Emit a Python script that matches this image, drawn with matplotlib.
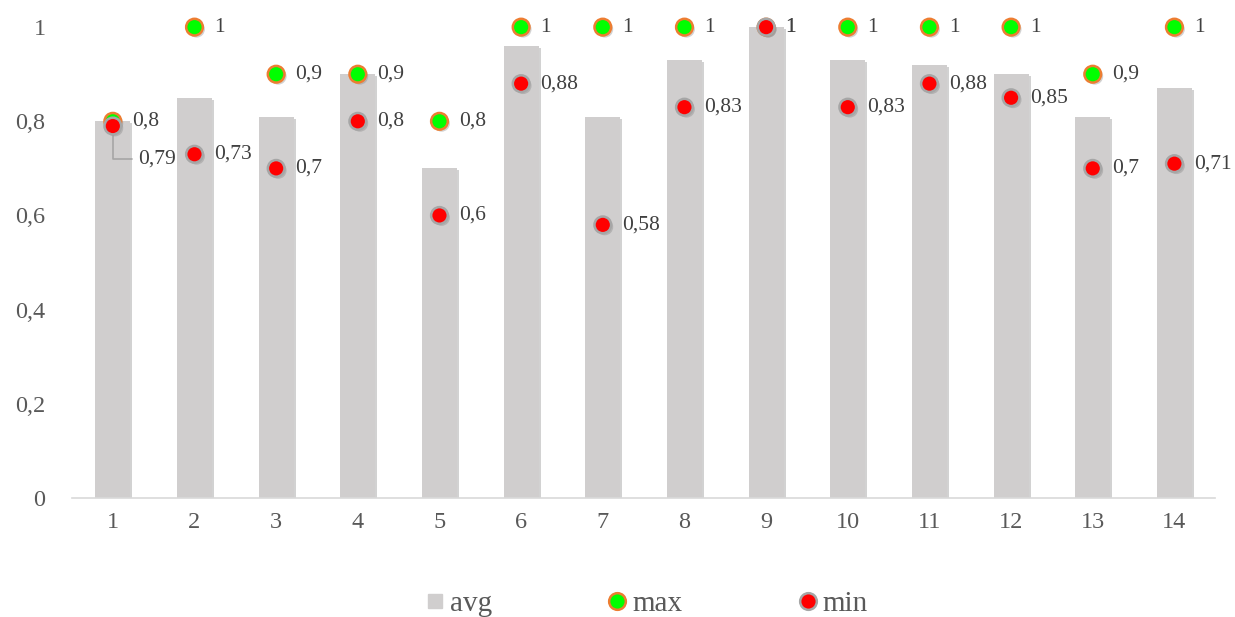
import matplotlib.pyplot as plt
import matplotlib.patheffects as pe
from matplotlib.lines import Line2D

plt.rcParams['font.family'] = ['Liberation Serif', 'DejaVu Serif']

cats = [str(i) for i in range(1, 15)]
avg = [0.80, 0.85, 0.81, 0.90, 0.70, 0.96, 0.81, 0.93, 1.00, 0.93, 0.92, 0.90, 0.81, 0.87]
vmax = [0.8, 1, 0.9, 0.9, 0.8, 1, 1, 1, 1, 1, 1, 1, 0.9, 1]
vmin = [0.79, 0.73, 0.7, 0.8, 0.6, 0.88, 0.58, 0.83, 1, 0.83, 0.88, 0.85, 0.7, 0.71]


def fmt(v):
    return ('%g' % v).replace('.', ',')


fig = plt.figure(figsize=(12.35, 6.17), dpi=100)
ax = fig.add_axes([0.0583, 0.193, 0.9257, 0.763])

x = list(range(len(cats)))
shadow = [pe.SimplePatchShadow(offset=(1.5, -1.5), shadow_rgbFace='#808080', alpha=0.35), pe.Normal()]

bars = ax.bar(x, avg, width=0.43, color='#D0CECE', zorder=2)
for b in bars:
    b.set_path_effects(shadow)

max_style = dict(linestyle='none', marker='o', markersize=12, markerfacecolor='#00FF00',
                 markeredgecolor='#ED7D31', markeredgewidth=1.8)
min_style = dict(linestyle='none', marker='o', markersize=12, markerfacecolor='#FF0000',
                 markeredgecolor='#A6A6A6', markeredgewidth=1.8)
ax.plot(x, vmax, zorder=4, clip_on=False, path_effects=shadow, **max_style)
ax.plot(x, vmin, zorder=5, clip_on=False, path_effects=shadow, **min_style)

# value labels right of each marker
lbl = dict(va='center', ha='left', fontsize=15.5, color='#404040', textcoords='offset points')
for i in x:
    ax.annotate(fmt(vmax[i]), (i, vmax[i]), xytext=(14, 0), **lbl)
    if i == 0:
        # first min label sits below with a leader line
        ax.annotate(fmt(vmin[i]), (i, vmin[i]), xytext=(18, -24),
                    arrowprops=dict(arrowstyle='-', color='#A6A6A6', lw=1.2,
                                    connectionstyle='angle,angleA=0,angleB=90,rad=0',
                                    shrinkA=2, shrinkB=0), **lbl)
    else:
        ax.annotate(fmt(vmin[i]), (i, vmin[i]), xytext=(14, 0), **lbl)

ax.set_xlim(-0.5, len(cats) - 0.5)
ax.set_ylim(0, 1)
ax.set_xticks(x)
ax.set_xticklabels(cats)
ax.set_yticks([0, 0.2, 0.4, 0.6, 0.8, 1])
ax.set_yticklabels([fmt(v) for v in [0, 0.2, 0.4, 0.6, 0.8, 1]])
ax.tick_params(axis='both', length=0, labelsize=17.5, colors='#595959')
ax.tick_params(axis='y', pad=19)
ax.tick_params(axis='x', pad=10)
for s in ['top', 'right', 'left']:
    ax.spines[s].set_visible(False)
ax.spines['bottom'].set_color('#D9D9D9')
ax.spines['bottom'].set_linewidth(1.2)

handles = [Line2D([], [], linestyle='none', marker='s', markersize=10, color='#D0CECE'),
           Line2D([], [], **max_style),
           Line2D([], [], **min_style)]
fig.legend(handles, ['avg', 'max', 'min'], loc='center', bbox_to_anchor=(0.5227, 0.021), ncol=3,
           frameon=False, fontsize=21, labelcolor='#595959', columnspacing=3.9,
           handlelength=0.8, handletextpad=0.1)

fig.savefig('out.png', dpi=100)
